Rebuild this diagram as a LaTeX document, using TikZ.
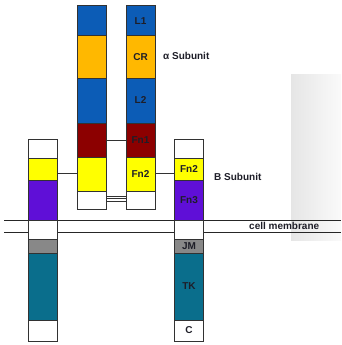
\documentclass[tikz,border=0pt]{standalone}
\usepackage{fontspec}
\setmainfont{Liberation Sans}
\definecolor{cblue}{RGB}{12,92,182}
\definecolor{corange}{RGB}{255,184,0}
\definecolor{cred}{RGB}{140,0,0}
\definecolor{cyellow}{RGB}{255,255,0}
\definecolor{cpurple}{RGB}{95,15,215}
\definecolor{cgray}{RGB}{136,136,136}
\definecolor{cteal}{RGB}{10,110,140}
\definecolor{cborder}{RGB}{50,50,50}
\definecolor{ctext}{RGB}{30,30,40}
\begin{document}
\begin{tikzpicture}[x=1pt,y=-1pt,
  seg/.style={draw=cborder,line width=1pt,inner sep=0pt,outer sep=0pt,
    font=\fontsize{10}{11}\selectfont\bfseries,text=ctext},
  colA/.style={seg,minimum width=29pt},
  colS/.style={seg,minimum width=29pt},
  lbl/.style={font=\fontsize{10}{11}\selectfont\bfseries,text=ctext,inner sep=0pt,anchor=west},
  link/.style={draw=cborder,line width=1pt},
  memb/.style={draw=black!85,line width=1pt}]
\useasboundingbox (0,0) rectangle (341,345);
% background gradient panel
\shade[left color=black!10,right color=black!2] (291,74) rectangle (341,240);
% membrane lines
\coordinate (m1l) at (4,220); \coordinate (m1r) at (341,220);
\coordinate (m2l) at (4,232); \coordinate (m2r) at (341,232);
\draw[memb] (m1l) -- (m1r);
\draw[memb] (m2l) -- (m2r);
% alpha column A
\node[colA,fill=cblue,minimum height=30pt] (A1) at (91.5,21) {};
\node[colA,fill=corange,minimum height=42pt] (A2) at (91.5,57) {};
\node[colA,fill=cblue,minimum height=45pt] (A3) at (91.5,100.5) {};
\node[colA,fill=cred,minimum height=34pt] (A4) at (91.5,140) {};
\node[colA,fill=cyellow,minimum height=34pt] (A5) at (91.5,174) {};
\node[colA,fill=white,minimum height=18pt] (A6) at (91.5,200) {};
% alpha column B
\node[colA,fill=cblue,minimum height=30pt] (B1) at (140.5,21) {L1};
\node[colA,fill=corange,minimum height=42pt] (B2) at (140.5,57) {CR};
\node[colA,fill=cblue,minimum height=45pt] (B3) at (140.5,100.5) {L2};
\node[colA,fill=cred,minimum height=34pt] (B4) at (140.5,140) {Fn1};
\node[colA,fill=cyellow,minimum height=34pt] (B5) at (140.5,174) {Fn2};
\node[colA,fill=white,minimum height=18pt] (B6) at (140.5,200) {};
% beta column left
\node[colS,fill=white,minimum height=19pt] (C1) at (42.5,148.5) {};
\node[colS,fill=cyellow,minimum height=22pt] (C2) at (42.5,169) {};
\node[colS,fill=cpurple,minimum height=40pt] (C3) at (42.5,200) {};
\node[colS,fill=white,minimum height=19pt] (C4) at (42.5,229.5) {};
\node[colS,fill=cgray,minimum height=14pt] (C5) at (42.5,246) {};
\node[colS,fill=cteal,minimum height=67pt] (C6) at (42.5,286.5) {};
\node[colS,fill=white,minimum height=21pt] (C7) at (42.5,330.5) {};
% beta column right
\node[colS,fill=white,minimum height=19pt] (D1) at (189,148.5) {};
\node[colS,fill=cyellow,minimum height=22pt] (D2) at (189,169) {Fn2};
\node[colS,fill=cpurple,minimum height=40pt] (D3) at (189,200) {Fn3};
\node[colS,fill=white,minimum height=19pt] (D4) at (189,229.5) {};
\node[colS,fill=cgray,minimum height=14pt] (D5) at (189,246) {JM};
\node[colS,fill=cteal,minimum height=67pt] (D6) at (189,286.5) {TK};
\node[colS,fill=white,minimum height=21pt] (D7) at (189,330.5) {C};
% connectors
\draw[link] (C2.east |- 0,173) coordinate (c2e) -- (c2e -| A5.west);
\draw[link] (A4.east) -- (B4.west);
\draw[link] (B5.east |- 0,173) coordinate (b5e) -- (b5e -| D2.west);
\draw[link] ([yshift=-1pt]A6.east) -- ([yshift=-1pt]B6.west);
\draw[link] ([yshift=1.5pt]A6.east) -- ([yshift=1.5pt]B6.west);
\draw[link] ([yshift=4pt]A6.east) -- ([yshift=4pt]B6.west);
% labels
\node[lbl] (la) at (163,56) {α Subunit};
\node[lbl] (lb) at (214,177) {B Subunit};
\node[lbl] (lc) at (249,226) {cell membrane};
\end{tikzpicture}
\end{document}
